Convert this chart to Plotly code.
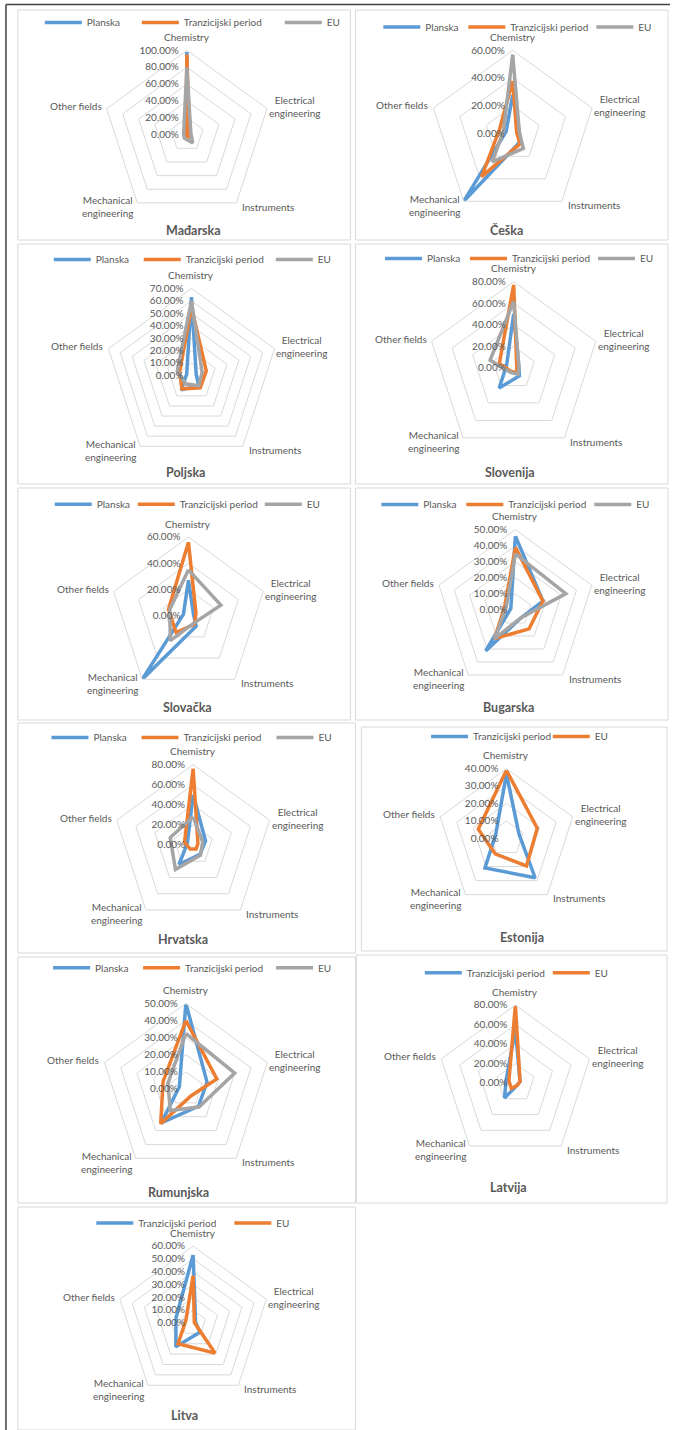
import math
import plotly.graph_objects as go

W, H = 673, 1430

# ---- data -----------------------------------------------------------------
categories = ["Chemistry", "Electrical engineering", "Instruments",
              "Mechanical engineering", "Other fields"]
category_labels = ["Chemistry", "Electrical<br>engineering", "Instruments",
                   "Mechanical<br>engineering", "Other fields"]

series_3 = ["Planska", "Tranzicijski period", "EU"]
series_2 = ["Tranzicijski period", "EU"]

madarska_planska = [0.98, 0.01, 0.01, 0.00, 0.00]
madarska_tranzicijski = [0.95, 0.03, 0.03, 0.01, 0.01]
madarska_eu = [0.80, 0.05, 0.12, 0.05, 0.04]

ceska_planska = [0.28, 0.05, 0.08, 0.60, 0.05]
ceska_tranzicijski = [0.38, 0.03, 0.09, 0.38, 0.10]
ceska_eu = [0.57, 0.05, 0.13, 0.25, 0.07]

poljska_planska = [0.63, 0.04, 0.10, 0.14, 0.04]
poljska_tranzicijski = [0.55, 0.125, 0.12, 0.13, 0.10]
poljska_eu = [0.60, 0.09, 0.10, 0.08, 0.12]

slovenija_planska = [0.50, 0.05, 0.09, 0.23, 0.07]
slovenija_tranzicijski = [0.77, 0.03, 0.05, 0.04, 0.14]
slovenija_eu = [0.62, 0.05, 0.07, 0.05, 0.23]

slovacka_planska = [0.27, 0.04, 0.10, 0.60, 0.04]
slovacka_tranzicijski = [0.56, 0.06, 0.08, 0.16, 0.16]
slovacka_eu = [0.35, 0.26, 0.07, 0.235, 0.15]

bugarska_planska = [0.46, 0.18, 0.06, 0.315, 0.03]
bugarska_tranzicijski = [0.39, 0.18, 0.145, 0.22, 0.07]
bugarska_eu = [0.35, 0.33, 0.06, 0.22, 0.06]

hrvatska_planska = [0.50, 0.13, 0.115, 0.24, 0.06]
hrvatska_tranzicijski = [0.76, 0.05, 0.05, 0.05, 0.09]
hrvatska_eu = [0.28, 0.10, 0.125, 0.30, 0.24]

estonija_tranzicijski = [0.37, 0.076, 0.28, 0.21, 0.065]
estonija_eu = [0.39, 0.186, 0.196, 0.11, 0.17]

rumunjska_planska = [0.50, 0.13, 0.125, 0.245, 0.04]
rumunjska_tranzicijski = [0.40, 0.19, 0.05, 0.25, 0.14]
rumunjska_eu = [0.325, 0.30, 0.13, 0.155, 0.11]

latvija_tranzicijski = [0.55, 0.05, 0.03, 0.19, 0.10]
latvija_eu = [0.80, 0.05, 0.03, 0.07, 0.07]

litva_tranzicijski = [0.53, 0.02, 0.09, 0.23, 0.14]
litva_eu = [0.37, 0.01, 0.29, 0.20, 0.06]

# ---- styling --------------------------------------------------------------
FONT = "Lato, 'Open Sans', sans-serif"
TEXT = "#595959"
GRID = "#D9D9D9"
BLUE, ORANGE, GREY = "#5B9BD5", "#ED7D31", "#A5A5A5"
LABEL_SIZE = 10
LEGEND_SYMBOL = 37

# panel layout: title, series, colours, axis max, tick step,
# centre x/y and radius (px), legend start/row/spacings, title position, frame
panels = [
    dict(title="Mađarska", names=series_3, colors=[BLUE, ORANGE, GREY],
         values=[madarska_planska, madarska_tranzicijski, madarska_eu],
         rmax=1.0, dtick=0.2, c=(187.7, 134.7), R=84.7,
         leg=(45, 20, [97, 143]), tpos=(194, 231), box=(18, 10, 352, 240)),
    dict(title="Češka", names=series_3, colors=[BLUE, ORANGE, GREY],
         values=[ceska_planska, ceska_tranzicijski, ceska_eu],
         rmax=0.6, dtick=0.2, c=(515, 133.8), R=83.8,
         leg=(385, 24.5, [85, 128]), tpos=(509, 231), box=(357, 10, 671, 240)),
    dict(title="Poljska", names=series_3, colors=[BLUE, ORANGE, GREY],
         values=[poljska_planska, poljska_tranzicijski, poljska_eu],
         rmax=0.7, dtick=0.1, c=(192.3, 375.7), R=87.7,
         leg=(54, 257, [90, 132]), tpos=(186, 473), box=(18, 244, 352, 484)),
    dict(title="Slovenija", names=series_3, colors=[BLUE, ORANGE, GREY],
         values=[slovenija_planska, slovenija_tranzicijski, slovenija_eu],
         rmax=0.8, dtick=0.2, c=(516, 368), R=86.7,
         leg=(386.7, 256, [85, 128]), tpos=(512.5, 472), box=(357, 244, 671, 484)),
    dict(title="Slovačka", names=series_3, colors=[BLUE, ORANGE, GREY],
         values=[slovacka_planska, slovacka_tranzicijski, slovacka_eu],
         rmax=0.6, dtick=0.2, c=(189.3, 615.7), R=79,
         leg=(55, 501.7, [83, 127]), tpos=(188, 707), box=(18, 488, 352, 720)),
    dict(title="Bugarska", names=series_3, colors=[BLUE, ORANGE, GREY],
         values=[bugarska_planska, bugarska_tranzicijski, bugarska_eu],
         rmax=0.5, dtick=0.1, c=(517.7, 610), R=80.7,
         leg=(383, 502, [85, 128]), tpos=(511, 707), box=(357, 488, 671, 720)),
    dict(title="Hrvatska", names=series_3, colors=[BLUE, ORANGE, GREY],
         values=[hrvatska_planska, hrvatska_tranzicijski, hrvatska_eu],
         rmax=0.8, dtick=0.2, c=(194, 845), R=80.7,
         leg=(51.7, 735, [90, 135]), tpos=(184, 940), box=(18, 723, 357, 953)),
    dict(title="Estonija", names=series_2, colors=[BLUE, ORANGE],
         values=[estonija_tranzicijski, estonija_eu],
         rmax=0.4, dtick=0.1, c=(508.7, 838.3), R=70,
         leg=(433, 734, [121.7]), tpos=(524, 937), box=(363, 727, 670, 951)),
    dict(title="Rumunjska", names=series_3, colors=[BLUE, ORANGE, GREY],
         values=[rumunjska_planska, rumunjska_tranzicijski, rumunjska_eu],
         rmax=0.5, dtick=0.1, c=(186.7, 1089), R=86,
         leg=(53.3, 965.3, [90, 133]), tpos=(179, 1192), box=(18, 957, 357, 1203)),
    dict(title="Latvija", names=series_2, colors=[BLUE, ORANGE],
         values=[latvija_tranzicijski, latvija_eu],
         rmax=0.8, dtick=0.2, c=(517.7, 1083), R=78.3,
         leg=(426.7, 970.3, [128]), tpos=(511, 1187), box=(358, 955, 670, 1203)),
    dict(title="Litva", names=series_2, colors=[BLUE, ORANGE],
         values=[litva_tranzicijski, litva_eu],
         rmax=0.6, dtick=0.1, c=(194, 1323), R=77.3,
         leg=(96.7, 1220.5, [138]), tpos=(185, 1415), box=(18, 1207, 357, 1430)),
]

# category label placement around each outer vertex: anchor and pixel nudge
label_place = [
    dict(xanchor="center", dx=0, dy=-13),
    dict(xanchor="left", dx=0, dy=-2),
    dict(xanchor="left", dx=4, dy=3.5),
    dict(xanchor="right", dx=-2, dy=3.5),
    dict(xanchor="right", dx=-3, dy=-2.5),
]


def px_x(x):
    return x / W


def px_y(y):
    return 1 - y / H


fig = go.Figure()
layout = dict(
    width=W, height=H, margin=dict(l=0, r=0, t=0, b=0),
    paper_bgcolor="white", plot_bgcolor="white",
    font=dict(family=FONT, color=TEXT, size=LABEL_SIZE),
    showlegend=True, shapes=[], annotations=[],
)

item_gap = 5
text_gap = LEGEND_SYMBOL + 2 * item_gap

for i, p in enumerate(panels, start=1):
    sub = "polar" if i == 1 else f"polar{i}"
    leg = "legend" if i == 1 else f"legend{i}"
    cx, cy = p["c"]
    R = p["R"]
    spacings = p["leg"][2] + [80]
    for name, color, vals, sp in zip(p["names"], p["colors"], p["values"], spacings):
        fig.add_trace(go.Scatterpolar(
            r=vals + vals[:1], theta=categories + categories[:1],
            mode="lines", name=name, subplot=sub, legend=leg,
            line=dict(color=color, width=3.5),
            legendwidth=max(sp - text_gap - item_gap, 1),
            hoverinfo="skip",
        ))

    layout[sub] = dict(
        domain=dict(x=[px_x(cx - R), px_x(cx + R)], y=[px_y(cy + R), px_y(cy - R)]),
        bgcolor="rgba(0,0,0,0)",
        gridshape="linear",
        angularaxis=dict(
            type="category", categoryorder="array", categoryarray=categories,
            rotation=90, direction="clockwise",
            showgrid=False, showline=True, linecolor=GRID, linewidth=1,
            ticks="", showticklabels=False,
        ),
        radialaxis=dict(
            range=[0, p["rmax"]], tick0=0, dtick=p["dtick"], tickformat=".2%",
            angle=90, tickangle=90, side="counterclockwise",
            showline=False, ticks="outside", ticklen=4, tickcolor="rgba(0,0,0,0)",
            gridcolor=GRID, gridwidth=1,
            tickfont=dict(family=FONT, size=LABEL_SIZE, color=TEXT),
        ),
    )

    # category names just outside the outer pentagon
    for k, (label, pl) in enumerate(zip(category_labels, label_place)):
        ang = math.radians(72 * k)
        vx = cx + R * math.sin(ang)
        vy = cy - R * math.cos(ang)
        layout["annotations"].append(dict(
            text=label, x=px_x(vx + pl["dx"]), y=px_y(vy + pl["dy"]),
            xref="paper", yref="paper", showarrow=False,
            xanchor=pl["xanchor"], yanchor="middle", align="center",
            font=dict(family=FONT, size=LABEL_SIZE, color=TEXT),
        ))

    lx, ly, _ = p["leg"]
    layout[leg] = dict(
        orientation="h", xref="paper", yref="paper",
        x=px_x(lx - 5), y=px_y(ly - 12), xanchor="left", yanchor="top",
        itemwidth=LEGEND_SYMBOL,
        bgcolor="rgba(0,0,0,0)", font=dict(family=FONT, size=LABEL_SIZE, color=TEXT),
        itemclick=False, itemdoubleclick=False,
    )

    tx, ty = p["tpos"]
    layout["annotations"].append(dict(
        text=f"<b>{p['title']}</b>", x=px_x(tx), y=px_y(ty),
        xref="paper", yref="paper", showarrow=False,
        xanchor="center", yanchor="middle",
        font=dict(family=FONT, size=12.5, color=TEXT),
    ))

    x0, y0, x1, y1 = p["box"]
    layout["shapes"].append(dict(
        type="rect", xref="paper", yref="paper",
        x0=px_x(x0), x1=px_x(x1), y0=px_y(y1), y1=px_y(y0),
        line=dict(color=GRID, width=1), fillcolor="rgba(0,0,0,0)", layer="below",
    ))

# page frame: left and top rules
for x0, y0, x1, y1 in [(6, 4.5, 6, 1430), (6, 4.5, 673, 4.5)]:
    layout["shapes"].append(dict(
        type="line", xref="paper", yref="paper",
        x0=px_x(x0), x1=px_x(x1), y0=px_y(y0), y1=px_y(y1),
        line=dict(color="#404040", width=1.5), layer="below",
    ))

fig.update_layout(**layout)
fig.write_html("out.html")
